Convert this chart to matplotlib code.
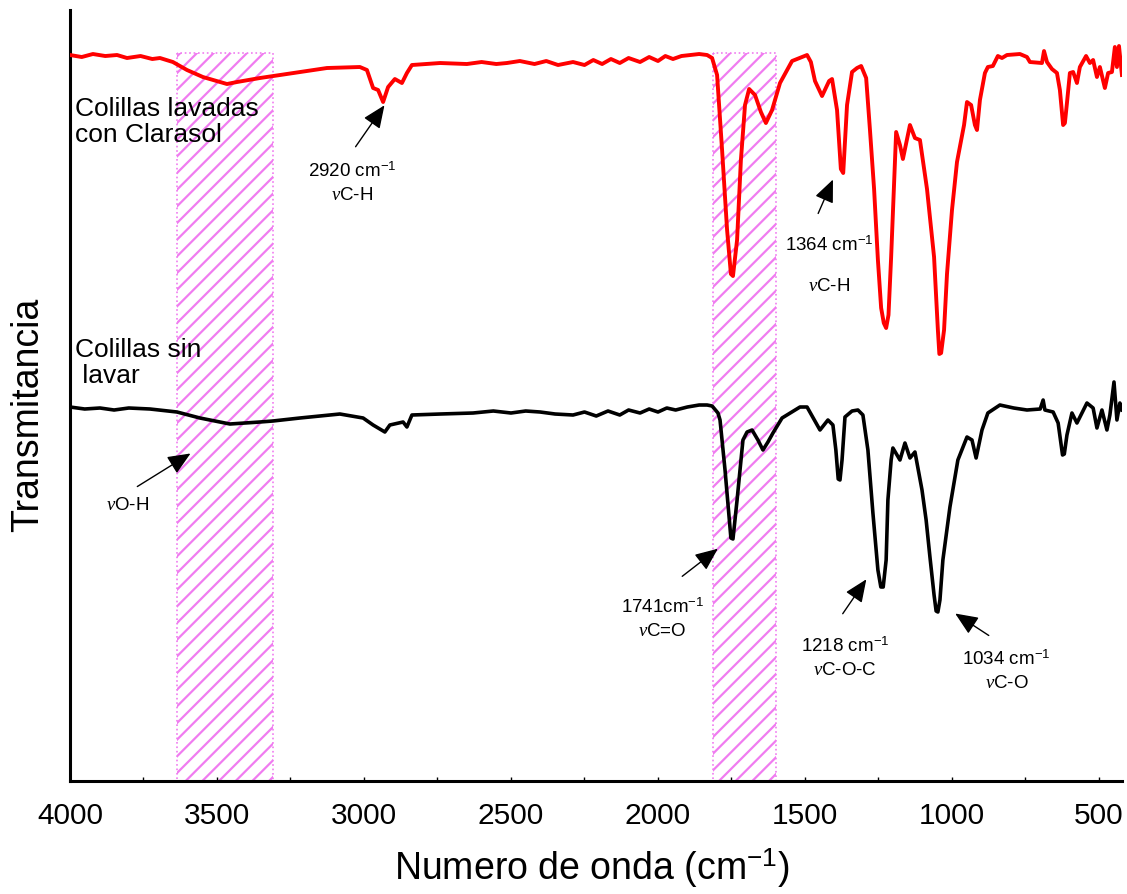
import numpy as np
import matplotlib
matplotlib.use("Agg")
import matplotlib.pyplot as plt

plt.rcParams['font.family'] = ['Liberation Sans', 'DejaVu Sans']
plt.rcParams['mathtext.fontset'] = 'custom'
plt.rcParams['mathtext.rm'] = 'Liberation Sans'
plt.rcParams['mathtext.it'] = 'Liberation Serif:italic'
plt.rcParams['hatch.linewidth'] = 1.6

# FTIR spectra, wavenumber (cm-1) vs transmittance (arbitrary units, stacked)
wn_lavadas = [4000, 3960, 3922, 3880, 3840, 3806, 3760, 3720, 3694, 3650, 3602, 3548,
              3466, 3432, 3354, 3241, 3126, 3014, 2990, 2969, 2952, 2935, 2918, 2895,
              2871, 2854, 2837, 2741, 2650, 2600, 2550, 2514, 2470, 2420, 2380, 2340,
              2289, 2250, 2220, 2190, 2160, 2130, 2100, 2061, 2030, 2000, 1975, 1949,
              1920, 1890, 1860, 1833, 1816, 1799, 1782, 1765, 1752, 1745, 1731, 1718, 1704,
              1690, 1670, 1650, 1633, 1612, 1585, 1544, 1493, 1480, 1466, 1442, 1418,
              1408, 1391, 1378, 1370, 1357, 1340, 1323, 1309, 1292, 1279, 1265, 1252, 1241,
              1232, 1224, 1216, 1207, 1190, 1177, 1167, 1143, 1126, 1109, 1085, 1061, 1048,
              1043, 1037, 1027, 1017, 1000, 983, 959, 949, 935, 922, 915, 905, 888, 878,
              861, 844, 830, 813, 769, 745, 735, 694, 687, 677, 660, 643,
              633, 622, 616, 609, 599, 588, 575, 565, 544, 531, 520, 507, 497,
              480, 469, 456, 446, 439, 432, 422]
t_lavadas = [726, 724, 727, 725, 726, 723, 725, 722, 723, 719, 711, 704,
             697, 699, 703, 708, 713, 714, 711, 693, 691, 679, 694, 702,
             698, 708, 716, 718, 717, 719, 717, 718, 720, 717, 720, 716,
             719, 716, 721, 717, 722, 718, 723, 719, 724, 720, 725, 722,
             725, 726, 727, 726, 723, 706, 631, 551, 507, 505, 541, 621, 676,
             692, 686, 669, 658, 671, 698, 720, 726, 719, 700, 685, 700,
             702, 671, 612, 608, 676, 709, 713, 715, 703, 651, 592, 521, 473,
             458, 453, 466, 524, 649, 636, 622, 656, 643, 641, 592, 524, 451,
             427, 428, 451, 507, 571, 619, 656, 679, 676, 656, 651, 681, 708, 714,
             715, 725, 723, 726, 727, 724, 719, 718, 730, 719, 712, 708,
             691, 656, 658, 678, 708, 709, 698, 714, 725, 718, 721, 704, 714,
             693, 708, 709, 734, 714, 735, 706]

wn_sin_lavar = [4000, 3950, 3898, 3850, 3800, 3728, 3636, 3558, 3456, 3354, 3310, 3218,
                3082, 3003, 2969, 2929, 2912, 2867, 2854, 2837, 2740, 2629, 2560, 2500,
                2450, 2401, 2350, 2289, 2250, 2210, 2170, 2130, 2100, 2061, 2030, 2000,
                1970, 1940, 1900, 1860, 1833, 1816, 1796, 1789, 1772, 1752, 1745, 1731, 1711,
                1697, 1680, 1660, 1643, 1626, 1609, 1578, 1517, 1493, 1449, 1422, 1405,
                1395, 1387, 1381, 1374, 1364, 1340, 1320, 1303, 1286, 1269, 1252, 1242, 1234,
                1224, 1218, 1207, 1201, 1177, 1160, 1143, 1126, 1102, 1088, 1075, 1061, 1054,
                1048, 1041, 1031, 1007, 980, 949, 932, 918, 898, 878, 837, 790, 745,
                700, 690, 684, 656, 639, 624, 618, 609, 592, 575, 541, 520, 507,
                490, 473, 463, 449, 439, 429, 422]
t_sin_lavar = [374, 372, 373, 371, 373, 372, 369, 363, 357, 359, 360, 363,
               367, 363, 356, 349, 356, 359, 354, 366, 367, 368, 370, 368,
               370, 369, 367, 366, 369, 365, 370, 366, 371, 368, 372, 369,
               373, 371, 374, 376, 376, 375, 368, 361, 311, 243, 242, 281, 341,
               349, 351, 341, 331, 339, 348, 363, 374, 374, 351, 361, 356,
               331, 302, 301, 321, 364, 370, 371, 366, 331, 268, 211, 194, 194,
               221, 281, 321, 333, 321, 338, 323, 329, 291, 261, 224, 186, 170,
               169, 181, 221, 274, 321, 344, 341, 323, 351, 368, 376, 373, 371,
               372, 381, 371, 369, 358, 326, 327, 346, 368, 358, 378, 373, 353,
               371, 351, 366, 399, 361, 378, 371]

# shaded bands (cm-1)
bandas = [(3636, 3310), (1813, 1599)]
banda_top = 728

# annotations: (label, text x, text y, arrow tail x, tail y, arrow tip x, tip y)
picos = [
    ("2920 cm$^{-1}$\n$\\nu$C-H", 3040, 598, 3034, 632, 2925, 678),
    ("$\\nu$O-H", 3803, 276, 3779, 293, 3582, 329),
    ("1741cm$^{-1}$\n$\\nu$C=O", 1985, 162, 1925, 203, 1789, 234),
    ("1218 cm$^{-1}$\n$\\nu$C-O-C", 1364, 123, 1377, 165, 1286, 204),
    ("1034 cm$^{-1}$\n$\\nu$C-O", 815, 110, 867, 144, 997, 169),
]
flecha = dict(arrowstyle='-|>,head_length=0.7,head_width=0.3',
              color='black', lw=1.0, mutation_scale=20)

fig = plt.figure(figsize=(11.27, 8.94), dpi=100)
ax = fig.add_axes([0.0621, 0.1264, 0.9334, 0.8624])

for x0, x1 in bandas:
    ax.fill_between([x0, x1], 0, banda_top, facecolor='none', edgecolor='#F07CF0',
                    hatch='//', linestyle=':', linewidth=1.2, zorder=1)

ax.plot(wn_lavadas, t_lavadas, color='red', lw=2.8, zorder=3)
ax.plot(wn_sin_lavar, t_sin_lavar, color='black', lw=2.6, zorder=3)

ax.text(3983, 684, "Colillas lavadas\ncon Clarasol", fontsize=19, ha='left', va='top',
        linespacing=1.1)
ax.text(3983, 443, "Colillas sin\n lavar", fontsize=19, ha='left', va='top', linespacing=1.1)

for lab, tx, ty, ax0, ay0, ax1, ay1 in picos:
    ax.text(tx, ty, lab, fontsize=13.5, ha='center', va='center', linespacing=1.45)
    ax.annotate("", xy=(ax1, ay1), xytext=(ax0, ay0), arrowprops=flecha)

# 1364 label has a wider gap between lines
ax.text(1418, 536, "1364 cm$^{-1}$", fontsize=13.5, ha='center', va='center')
ax.text(1418, 495, "$\\nu$C-H", fontsize=13.5, ha='center', va='center')
ax.annotate("", xy=(1401, 604), xytext=(1459, 565), arrowprops=flecha)

ax.set_xlim(4000, 422)
ax.set_ylim(0, 771)
ax.set_xticks([4000, 3500, 3000, 2500, 2000, 1500, 1000, 500])
ax.set_xticks(np.arange(3750, 400, -500), minor=True)
ax.set_yticks([])
ax.tick_params(axis='x', which='both', direction='in', length=3, width=1, pad=15,
               labelsize=21.5)
ax.spines['top'].set_visible(False)
ax.spines['right'].set_visible(False)
ax.spines['left'].set_linewidth(2.2)
ax.spines['bottom'].set_linewidth(2.2)

ax.set_xlabel("Numero de onda (cm$^{-1}$)", fontsize=27)
ax.xaxis.set_label_coords(0.496, -0.113)
ax.xaxis.label.set_va('center')
ax.set_ylabel("Transmitancia", fontsize=27)
ax.yaxis.set_label_coords(-0.040, 0.475)
ax.yaxis.label.set_va('center')

fig.savefig("out.png", dpi=100)
